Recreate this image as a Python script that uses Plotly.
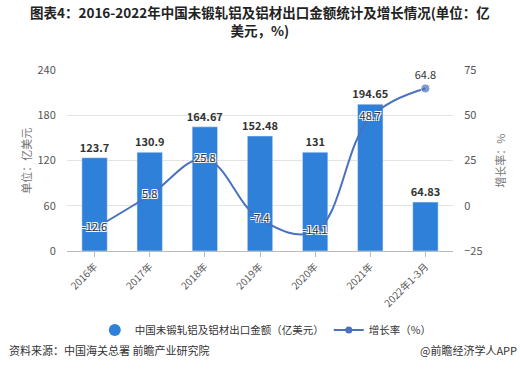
import plotly.graph_objects as go

categories = ["2016年", "2017年", "2018年", "2019年", "2020年", "2021年", "2022年1-3月"]
export_value = [123.7, 130.9, 164.67, 152.48, 131, 194.65, 64.83]
growth_rate = [-12.6, 5.8, 25.8, -7.4, -14.1, 48.7, 64.8]
bar_labels = ["123.7", "130.9", "164.67", "152.48", "131", "194.65", "64.83"]
growth_labels = ["-12.6", "5.8", "25.8", "-7.4", "-14.1", "48.7", "64.8"]

FONT = "Noto Sans CJK SC"
BAR_C = "#2f80d8"
LINE_C = "#4a70c0"

fig = go.Figure()
fig.add_trace(go.Bar(
    x=categories, y=export_value, marker_color=BAR_C, width=0.46,
    text=bar_labels, textposition="outside", cliponaxis=False, constraintext="none",
    textfont=dict(size=11, color="#333", family=FONT, weight="bold"),
    showlegend=False, yaxis="y",
))
fig.add_trace(go.Scatter(
    x=categories, y=growth_rate, yaxis="y2", mode="lines+markers+text",
    line=dict(color=LINE_C, width=2, shape="spline", smoothing=1.1),
    marker=dict(size=[0, 0, 0, 0, 0, 0, 9], color=LINE_C),
    text=growth_labels,
    textposition=["middle center"] * 6 + ["top center"],
    textfont=dict(size=11, color="#333", family=FONT,
                  shadow="1px 1px 0 #fff, -1px -1px 0 #fff, 1px -1px 0 #fff, -1px 1px 0 #fff"),
    cliponaxis=False, showlegend=False,
))
# legend entries
fig.add_trace(go.Scatter(
    x=[None], y=[None], mode="markers", name="中国未锻轧铝及铝材出口金额（亿美元）",
    marker=dict(symbol="circle", size=12, color=BAR_C),
))
fig.add_trace(go.Scatter(
    x=[None], y=[None], mode="lines+markers", name="增长率（%）", yaxis="y2",
    line=dict(color=LINE_C, width=2), marker=dict(size=7, color=LINE_C),
))

fig.update_layout(
    width=520, height=378,
    margin=dict(l=67, r=67, t=70, b=127, autoexpand=False),
    paper_bgcolor="white", plot_bgcolor="white",
    font=dict(family=FONT, color="#555", size=11),
    xaxis=dict(
        tickangle=-45, tickfont=dict(size=10, color="#555"),
        showline=True, linecolor="#bbb", ticks="outside", ticklen=5, tickcolor="#bbb",
        showgrid=False, automargin=False,
    ),
    yaxis=dict(
        range=[0, 240], dtick=60, showgrid=True, gridcolor="#e3e3e3",
        zeroline=False, tickfont=dict(size=11, color="#555"), automargin=False,
        ticks="outside", ticklen=8, tickcolor="rgba(0,0,0,0)",
    ),
    yaxis2=dict(
        range=[-25, 75], dtick=25, overlaying="y", side="right", showgrid=False,
        zeroline=False, tickfont=dict(size=11, color="#555"), automargin=False,
        ticks="outside", ticklen=8, tickcolor="rgba(0,0,0,0)",
    ),
    legend=dict(orientation="h", x=0.515, xanchor="center", y=-0.436, yanchor="middle",
                font=dict(size=10.5, color="#333"), itemwidth=30, tracegroupgap=0),
    annotations=[
        dict(text="<b>图表4：2016-2022年中国未锻轧铝及铝材出口金额统计及增长情况(单位：亿<br>美元，%)</b>",
             xref="paper", yref="paper", x=0.5, xanchor="center", y=1.27, yanchor="middle",
             showarrow=False, font=dict(size=13.5, color="#222", family=FONT)),
        dict(text="单位：亿美元", xref="paper", yref="paper", x=-0.108, xanchor="center",
             y=0.5, yanchor="middle", textangle=-90, showarrow=False,
             font=dict(size=11, color="#777")),
        dict(text="增长率：%", xref="paper", yref="paper", x=1.12, xanchor="center",
             y=0.5, yanchor="middle", textangle=-90, showarrow=False,
             font=dict(size=11, color="#777")),
        dict(text="资料来源：中国海关总署 前瞻产业研究院", xref="paper", yref="paper",
             x=-0.155, xanchor="left", y=-0.547, yanchor="middle", showarrow=False,
             font=dict(size=11, color="#333")),
        dict(text="@前瞻经济学人APP", xref="paper", yref="paper",
             x=1.172, xanchor="right", y=-0.547, yanchor="middle", showarrow=False,
             font=dict(size=11, color="#333")),
    ],
)

fig.write_html("out.html", config={"displayModeBar": False},
               post_script="document.body.style.margin='0';document.body.style.overflow='hidden';")
